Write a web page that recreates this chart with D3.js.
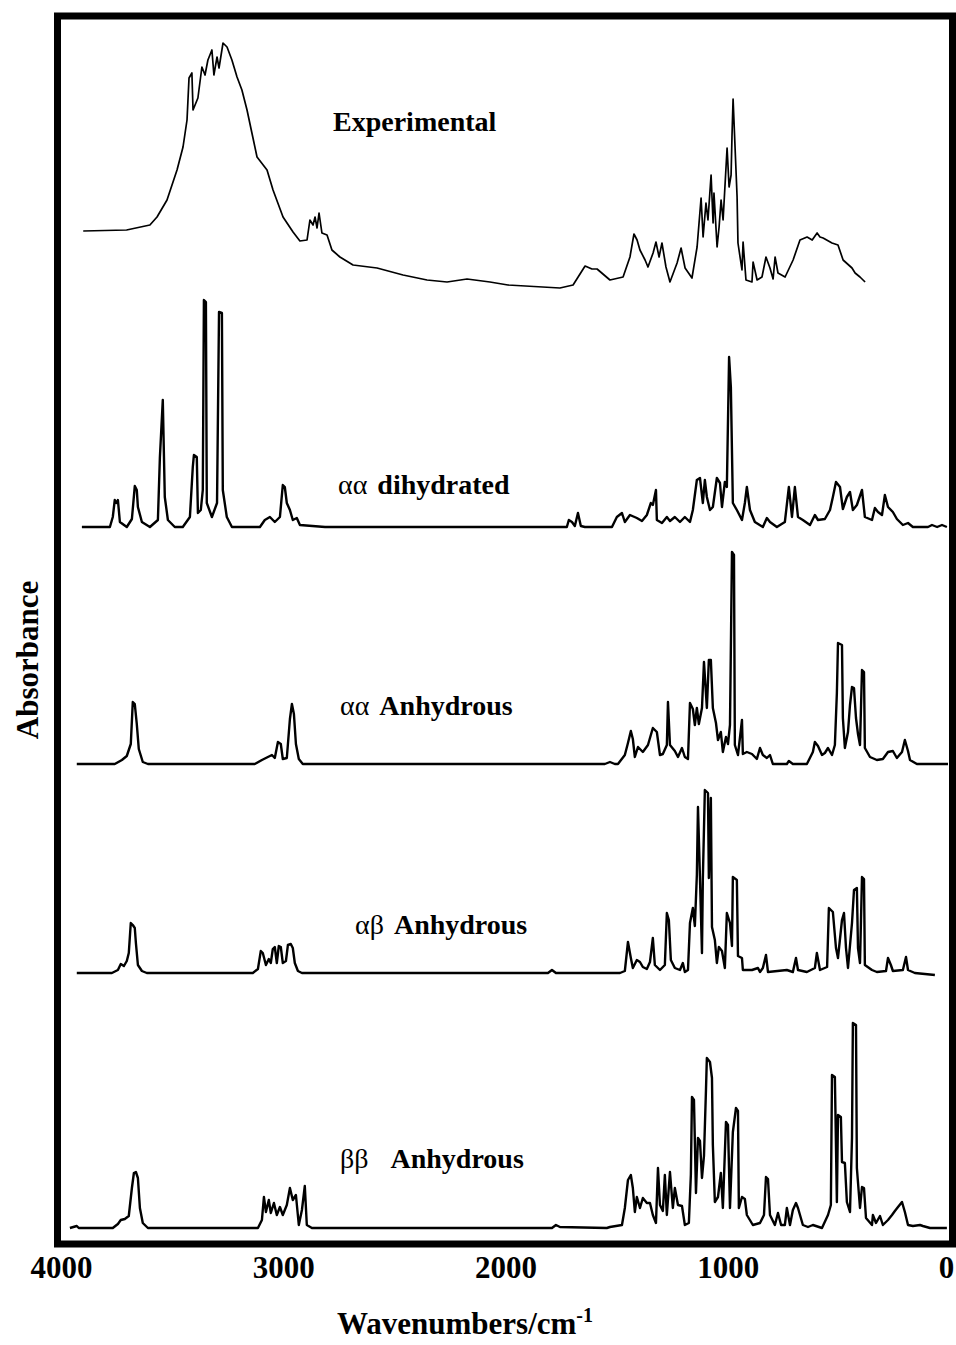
<!DOCTYPE html>
<html>
<head>
<meta charset="utf-8">
<script src="https://cdn.jsdelivr.net/npm/d3@7"></script>
<style>
  body { margin: 0; background: #fff; }
  text { font-family: "Liberation Serif", "Times New Roman", serif; font-weight: bold; fill: #000; }
</style>
</head>
<body>
<svg width="956" height="1345"></svg>
<script>
//	DATA  [wavenumber cm-1, relative absorbance]

var experimental = [
	[3900,0.59],[3705,0.60],[3600,0.65],[3568,0.73],[3523,0.90],[3478,1.20],[3451,1.43],[3433,1.70],
	[3424,2.12],[3411,2.17],[3406,1.80],[3384,1.92],[3366,2.23],[3352,2.15],[3339,2.30],[3321,2.40],
	[3312,2.15],[3298,2.33],[3289,2.22],[3271,2.47],[3253,2.43],[3231,2.30],[3208,2.13],[3186,2.00],
	[3163,1.80],[3141,1.57],[3118,1.33],[3073,1.20],[3046,1.00],[3001,0.73],[2956,0.58],[2925,0.49],
	[2893,0.50],[2880,0.70],[2866,0.65],[2857,0.73],[2848,0.62],[2839,0.77],[2826,0.57],[2803,0.55],
	[2781,0.40],[2745,0.33],[2686,0.25],[2578,0.22],[2461,0.15],[2353,0.10],[2263,0.08],[2173,0.11],
	[2070,0.08],[1989,0.05],[1755,0.02],[1696,0.05],[1642,0.24],[1611,0.21],[1588,0.21],[1530,0.10],
	[1471,0.13],[1440,0.33],[1422,0.56],[1408,0.50],[1395,0.40],[1372,0.30],[1359,0.23],[1336,0.37],
	[1323,0.48],[1309,0.33],[1296,0.47],[1278,0.23],[1260,0.08],[1228,0.27],[1210,0.42],[1192,0.22],
	[1161,0.12],[1138,0.43],[1120,0.92],[1111,0.53],[1098,0.87],[1089,0.70],[1075,1.15],[1066,0.67],
	[1062,0.97],[1048,0.43],[1039,0.63],[1030,0.90],[1021,0.70],[1003,1.42],[994,1.03],[985,1.15],
	[981,1.53],[976,1.91],[967,1.42],[958,0.93],[954,0.47],[936,0.20],[931,0.48],[918,0.10],
	[891,0.08],[886,0.28],[868,0.10],[846,0.13],[828,0.33],[810,0.22],[796,0.11],[787,0.33],
	[774,0.17],[742,0.13],[706,0.30],[675,0.50],[643,0.53],[620,0.50],[598,0.57],[585,0.53],
	[571,0.52],[531,0.47],[504,0.45],[481,0.30],[441,0.22],[427,0.17],[405,0.13],[382,0.08]
];

var aaDihydrated = [
	[3906,0],[3780,0],[3767,0.10],[3758,0.27],[3751,0.24],[3744,0.27],[3735,0.05],[3704,0],
	[3681,0.08],[3668,0.41],[3659,0.37],[3654,0.20],[3636,0.05],[3600,0],[3564,0.07],[3555,0.70],
	[3542,1.27],[3533,0.30],[3519,0.07],[3488,0],[3452,0],[3420,0.10],[3407,0.60],[3402,0.72],
	[3389,0.70],[3384,0.14],[3371,0.17],[3362,0.37],[3357,2.27],[3348,2.25],[3344,0.24],[3321,0.10],
	[3298,0.24],[3289,2.15],[3276,2.14],[3272,0.37],[3254,0.10],[3231,0],[3105,0],[3083,0.07],
	[3060,0.10],[3038,0.05],[3015,0.10],[3002,0.42],[2993,0.40],[2984,0.24],[2970,0.17],[2957,0.07],
	[2939,0.09],[2925,0.02],[2812,0],[1836,0],[1724,0],[1715,0.07],[1701,0.05],[1688,0.01],
	[1674,0.14],[1661,0.01],[1643,0],[1521,0],[1499,0.10],[1476,0.14],[1463,0.05],[1440,0.12],
	[1409,0.09],[1386,0.06],[1364,0.12],[1346,0.24],[1337,0.22],[1323,0.37],[1319,0.07],[1296,0.04],
	[1274,0.10],[1260,0.06],[1238,0.10],[1215,0.05],[1193,0.10],[1170,0.05],[1157,0.17],[1139,0.47],
	[1125,0.49],[1112,0.24],[1103,0.47],[1094,0.30],[1080,0.17],[1067,0.20],[1049,0.49],[1035,0.44],
	[1026,0.20],[1013,0.45],[1004,0.40],[994,1.70],[986,1.40],[977,0.24],[959,0.17],[936,0.07],
	[923,0.24],[914,0.40],[900,0.17],[878,0.05],[842,0],[824,0.09],[810,0.05],[779,0],
	[743,0.05],[725,0.40],[711,0.10],[698,0.40],[684,0.10],[662,0.07],[630,0.02],[608,0.12],
	[594,0.07],[563,0.08],[540,0.17],[527,0.30],[513,0.45],[495,0.40],[482,0.18],[464,0.30],
	[450,0.35],[437,0.17],[419,0.22],[396,0.37],[383,0.10],[351,0.07],[338,0.19],[324,0.15],
	[306,0.12],[293,0.32],[279,0.20],[257,0.15],[239,0.08],[212,0.02],[189,0.04],[167,0],
	[99,0],[81,0.02],[58,0],[36,0.02],[14,0]
];

var aaAnhydrous = [
	[3929,0],[3758,0],[3726,0.04],[3704,0.08],[3686,0.20],[3677,0.62],[3668,0.60],[3659,0.40],
	[3650,0.15],[3632,0.02],[3609,0],[3128,0],[3096,0.04],[3069,0.07],[3051,0.09],[3038,0.06],
	[3024,0.22],[3011,0.20],[3002,0.05],[2984,0.06],[2970,0.45],[2961,0.60],[2952,0.50],[2943,0.20],
	[2930,0.05],[2912,0],[1755,0],[1553,0],[1530,0.02],[1508,0],[1494,0],[1463,0.09],
	[1449,0.21],[1436,0.33],[1427,0.25],[1418,0.07],[1404,0.17],[1382,0.12],[1359,0.19],[1337,0.36],
	[1319,0.32],[1305,0.09],[1292,0.10],[1274,0.19],[1269,0.62],[1260,0.19],[1238,0.13],[1224,0.07],
	[1206,0.16],[1193,0.07],[1179,0.05],[1170,0.61],[1157,0.55],[1148,0.39],[1139,0.56],[1130,0.40],
	[1116,0.56],[1107,1.02],[1094,0.56],[1085,1.04],[1076,1.04],[1067,0.56],[1053,0.41],[1044,0.24],
	[1031,0.32],[1022,0.12],[1008,0.27],[999,0.20],[990,0.39],[981,2.12],[972,2.09],[968,0.19],
	[954,0.09],[936,0.44],[932,0.10],[914,0.12],[891,0.10],[869,0.05],[855,0.16],[842,0.09],
	[824,0.06],[810,0.09],[797,0],[734,0],[725,0.03],[707,0],[644,0],[617,0.12],
	[608,0.22],[594,0.18],[576,0.09],[563,0.11],[549,0.16],[531,0.09],[518,0.19],[509,0.71],
	[504,1.21],[486,1.19],[482,0.46],[473,0.16],[459,0.32],[450,0.59],[441,0.77],[432,0.76],
	[423,0.46],[414,0.30],[405,0.19],[396,0.94],[387,0.92],[383,0.16],[360,0.07],[329,0.04],
	[302,0.05],[279,0.12],[257,0.13],[239,0.06],[216,0.12],[203,0.24],[189,0.13],[180,0.04],
	[149,0],[104,0],[9,0]
];

var abAnhydrous = [
	[3929,0],[3771,0],[3744,0.03],[3731,0.09],[3717,0.07],[3704,0.12],[3695,0.20],[3686,0.50],
	[3677,0.48],[3668,0.45],[3663,0.30],[3654,0.08],[3636,0.02],[3614,0],[3137,0],[3114,0.04],
	[3101,0.22],[3092,0.20],[3078,0.08],[3065,0.14],[3056,0.10],[3047,0.24],[3038,0.26],[3029,0.10],
	[3020,0.27],[3011,0.26],[3002,0.10],[2988,0.12],[2979,0.28],[2966,0.29],[2957,0.25],[2948,0.10],
	[2934,0.02],[2916,0],[1809,0],[1791,0.03],[1773,0],[1755,0],[1485,0],[1463,0.02],
	[1449,0.31],[1436,0.15],[1427,0.05],[1409,0.13],[1395,0.11],[1382,0.06],[1364,0.04],[1350,0.11],
	[1337,0.35],[1328,0.08],[1305,0.03],[1283,0.08],[1274,0.60],[1265,0.53],[1256,0.13],[1238,0.05],
	[1215,0.03],[1202,0.10],[1193,0.01],[1179,0.03],[1170,0.50],[1157,0.65],[1148,0.47],[1139,0.98],
	[1134,1.66],[1125,0.95],[1116,0.20],[1112,0.95],[1103,1.83],[1089,1.80],[1085,0.95],[1076,1.75],
	[1071,0.46],[1058,0.33],[1049,0.10],[1040,0.26],[1026,0.22],[1013,0.05],[1004,0.60],[990,0.50],
	[981,0.27],[977,0.96],[959,0.93],[954,0.17],[936,0.15],[932,0.03],[891,0.03],[864,0.05],
	[855,0.01],[842,0.05],[828,0.18],[819,0.01],[734,0.03],[707,0.01],[693,0.15],[684,0.03],
	[644,0.01],[608,0.05],[599,0.20],[585,0.03],[553,0.06],[545,0.65],[527,0.61],[513,0.25],
	[504,0.15],[486,0.53],[477,0.60],[468,0.25],[459,0.05],[441,0.50],[432,0.83],[419,0.85],
	[414,0.25],[405,0.10],[396,0.96],[387,0.94],[383,0.08],[351,0.03],[329,0.01],[288,0.02],
	[279,0.15],[266,0.08],[257,0.02],[212,0.03],[198,0.16],[189,0.03],[158,0],[68,-0.02]
];

var bbAnhydrous = [
	[3960,0],[3929,0.02],[3920,0],[3767,0],[3744,0.04],[3731,0.08],[3713,0.09],[3695,0.12],
	[3681,0.40],[3672,0.55],[3663,0.56],[3654,0.50],[3645,0.20],[3632,0.05],[3609,0],[3114,0],
	[3096,0.08],[3087,0.31],[3078,0.16],[3065,0.28],[3056,0.15],[3042,0.25],[3029,0.13],[3015,0.21],
	[3002,0.13],[2984,0.23],[2970,0.40],[2957,0.28],[2943,0.33],[2930,0.03],[2916,0.18],[2903,0.42],
	[2894,0.03],[2871,0],[1791,0],[1773,0.03],[1755,0.01],[1544,0],[1530,0.01],[1476,0.03],
	[1463,0.20],[1449,0.48],[1436,0.53],[1427,0.40],[1418,0.16],[1409,0.31],[1395,0.20],[1382,0.30],
	[1364,0.25],[1350,0.25],[1337,0.13],[1323,0.05],[1314,0.60],[1305,0.23],[1292,0.17],[1283,0.53],
	[1274,0.13],[1260,0.56],[1247,0.20],[1238,0.40],[1224,0.23],[1206,0.22],[1193,0.03],[1175,0.05],
	[1166,0.53],[1161,1.31],[1152,1.28],[1143,0.35],[1134,0.90],[1125,0.87],[1116,0.50],[1107,0.72],
	[1098,1.38],[1094,1.70],[1080,1.66],[1071,1.50],[1067,0.83],[1058,0.26],[1044,0.31],[1031,0.55],
	[1022,0.20],[1008,1.06],[999,1.03],[990,0.20],[977,0.96],[963,1.20],[954,1.17],[950,0.20],
	[936,0.31],[923,0.29],[914,0.13],[887,0.03],[855,0.05],[837,0.13],[828,0.51],[819,0.49],
	[810,0.13],[788,0.03],[774,0.15],[760,0.03],[743,0.03],[734,0.20],[720,0.03],[707,0.18],
	[693,0.25],[684,0.20],[662,0.03],[639,0.01],[617,0.03],[576,0],[549,0.13],[536,0.23],
	[531,1.53],[518,1.51],[509,0.26],[504,1.13],[491,1.11],[486,0.66],[473,0.65],[464,0.26],
	[450,0.16],[441,0.90],[437,2.05],[423,2.03],[419,0.60],[405,0.20],[396,0.41],[387,0.40],
	[378,0.10],[351,0.03],[347,0.13],[333,0.05],[315,0.12],[302,0.03],[279,0.08],[261,0.13],
	[248,0.17],[234,0.21],[216,0.26],[203,0.16],[189,0.03],[167,0.02],[135,0.03],[122,0.02],
	[90,0],[45,0],[14,0]
];

var spectra  = [experimental, aaDihydrated, aaAnhydrous, abAnhydrous, bbAnhydrous];
var offsets  = [9.54, 7.17, 4.80, 2.71, 0.16];   // vertical stacking, absorbance units
var greek    = ["", "αα", "αα", "αβ", "ββ"];
var names    = ["Experimental", "dihydrated", "Anhydrous", "Anhydrous", "Anhydrous"];
var xTicks   = [4000, 3000, 2000, 1000, 0];

var svg = d3.select("svg");

var x = d3.scaleLinear().domain([4000, 0]).range([61, 950]),
	y = d3.scaleLinear().domain([0, 12.28]).range([1244, 16]);

// spectra
spectra.forEach(function(s, i) {
	var line = d3.line()
		.x(function(d) { return x(d[0]); })
		.y(function(d) { return y(offsets[i] + d[1]); });
	svg.append("path")
		.datum(s)
		.attr("d", line)
		.attr("fill", "none")
		.attr("stroke", "#000")
		.attr("stroke-width", i === 0 ? 1.7 : 2.4)
		.attr("stroke-linejoin", "round");
});

// labels
var labelPos = [[333, 131], [338, 494], [340, 715], [355, 934], [340, 1168]];
labelPos.forEach(function(p, i) {
	var t = svg.append("text").attr("x", p[0]).attr("y", p[1]).style("font-size", "28px");
	if (greek[i]) {
		t.append("tspan").style("font-weight", "normal").text(greek[i]);
		t.append("tspan").attr("dx", i === 4 ? 22 : 10).text(names[i]);
	} else t.text(names[i]);
});

// frame
svg.append("rect")
	.attr("x", 57.5).attr("y", 16)
	.attr("width", 895).attr("height", 1228)
	.attr("fill", "none").attr("stroke", "#000").attr("stroke-width", 7);

// x axis
var axis = svg.append("g")
	.attr("transform", "translate(0,1252)")
	.call(d3.axisBottom(x).tickValues(xTicks).tickSize(0).tickPadding(4).tickFormat(d3.format("d")));
axis.select(".domain").remove();
axis.selectAll("text")
	.style("font-family", "Liberation Serif, serif")
	.style("font-weight", "bold")
	.style("font-size", "31px")
	.attr("fill", "#000")
	.attr("dx", function(d) { return d === 0 ? -4 : 0; });

svg.append("text")
	.attr("x", 465).attr("y", 1334)
	.attr("text-anchor", "middle")
	.style("font-size", "31px")
	.call(function(t) {
		t.append("tspan").text("Wavenumbers/cm");
		t.append("tspan").attr("dy", -12).style("font-size", "20px").text("-1");
	});

svg.append("text")
	.attr("transform", "translate(38,660) rotate(-90)")
	.attr("text-anchor", "middle")
	.style("font-size", "31px")
	.text("Absorbance");
</script>
</body>
</html>
